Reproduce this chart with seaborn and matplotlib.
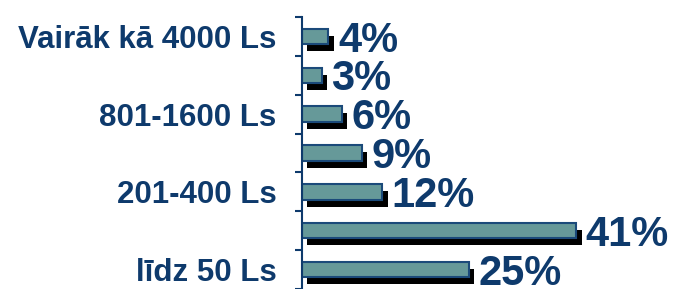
import matplotlib
matplotlib.use("Agg")
import matplotlib.pyplot as plt
import matplotlib.patheffects as pe
import seaborn as sns
import pandas as pd

# data (top to bottom); only every other category label is shown in the chart
categories = ['Vairāk kā 4000 Ls', '1601-4000 Ls', '801-1600 Ls', '401-800 Ls',
              '201-400 Ls', '51-200 Ls', 'līdz 50 Ls']
shown = [True, False, True, False, True, False, True]
values = [4, 3, 6, 9, 12, 41, 25]

navy = '#0e3a6c'
df = pd.DataFrame({'cat': categories, 'val': values})

sns.set_style('white')
plt.rcParams['font.family'] = ['Liberation Sans', 'DejaVu Sans']

fig = plt.figure(figsize=(6.75, 2.89), dpi=100)
ax = fig.add_axes([0.447, 0.0, 0.545, 0.941])

sns.barplot(data=df, x='val', y='cat', orient='h', color='#669999',
            saturation=1, width=0.4, edgecolor='#1b4a7a', linewidth=1.5, ax=ax)

# dark drop shadow under each bar
for p in ax.patches:
    p.set_path_effects([pe.SimplePatchShadow(offset=(4, -5), shadow_rgbFace='black', alpha=1),
                        pe.Normal()])

texts = ax.bar_label(ax.containers[0], labels=[f'{v}%' for v in values], padding=8,
                     fontsize=30, fontweight='bold', color=navy)
for t in texts:
    t.xyann = (7, -3)

ax.set_xlim(0, 55)
ax.set_ylim(6.5, -0.5)
ax.set_xlabel('')
ax.set_ylabel('')
ax.set_xticks([])

ax.set_yticks(range(len(categories)))
ax.set_yticklabels([c if s else '' for c, s in zip(categories, shown)],
                   fontsize=22.5, fontweight='bold', color=navy)
ax.set_yticks([i - 0.5 for i in range(len(categories) + 1)], minor=True)
ax.tick_params(axis='y', which='major', length=0, pad=18)
ax.tick_params(axis='y', which='minor', length=5, width=1.5, color=navy, left=True)

for s in ['top', 'right', 'bottom']:
    ax.spines[s].set_visible(False)
ax.spines['left'].set_color(navy)
ax.spines['left'].set_linewidth(1.5)

fig.savefig('out.png', dpi=100)
